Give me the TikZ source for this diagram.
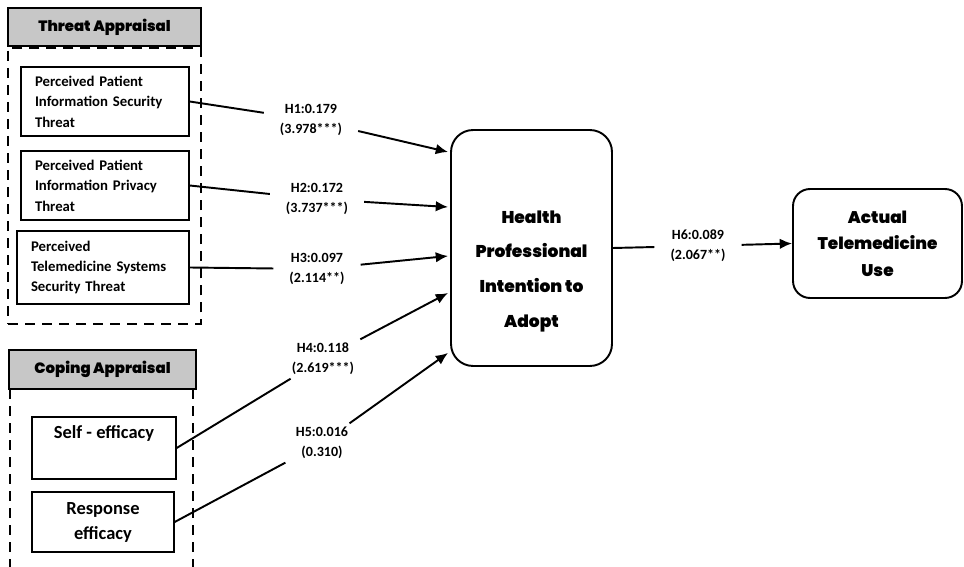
\documentclass[tikz,border=0pt]{standalone}
\usepackage{fontspec}
\setmainfont{Carlito}
\newfontfamily\heavyfont{Poppins Black}
\usetikzlibrary{arrows.meta, calc}
\tikzstyle{arrow} = [line width=1.1pt, -{Latex[length=7pt,width=6pt]}]

\begin{document}
\begin{tikzpicture}[x=0.02cm, y=-0.02cm,
	construct/.style={rectangle, draw=black, line width=0.8pt, minimum width=3.36cm, minimum height=1.38cm, text width=2.8cm, align=left, font=\bfseries\fontsize{8.4}{11.6}\selectfont},
	coping/.style={rectangle, draw=black, line width=0.8pt, align=center, font=\bfseries\fontsize{10.5}{14.2}\selectfont},
	header/.style={rectangle, draw=black, line width=1.1pt, fill=black!22, minimum height=0.77cm, font=\heavyfont\fontsize{8.5}{10}\selectfont},
	group/.style={draw=black, line width=1.1pt, dash pattern=on 5.7pt off 4pt},
	outcome/.style={rectangle, draw=black, line width=1.1pt, align=center, font=\heavyfont\fontsize{9.7}{19.8}\selectfont},
	link/.style={line width=1.1pt},
	coef/.style={inner xsep=9pt, inner ysep=2pt, align=center, font=\bfseries\fontsize{8}{11.3}\selectfont}
]
\useasboundingbox (0,0) rectangle (964,567);

% Threat appraisal group
\node[group, rectangle, anchor=north west, minimum width=3.86cm, minimum height=5.52cm] (thgroup) at (7,47) {};
\node[header, minimum width=3.86cm] (thhead) at (104.5,27) {Threat Appraisal};
\node[construct] (s1) at (105,101.5) {Perceived Patient\\Information Security\\Threat};
\node[construct] (s2) at (105,185.5) {Perceived Patient\\Information Privacy\\Threat};
\node[construct, minimum width=3.44cm, minimum height=1.46cm, text width=2.88cm] (s3) at (103,267.5) {Perceived\\Telemedicine Systems\\Security Threat};

% Coping appraisal group
\draw[group] (10,389) -- (10,567);
\draw[group] (193,389) -- (193,567);
\node[header, minimum width=3.74cm] (cphead) at (102.5,369.5) {Coping Appraisal};
\node[coping, minimum width=2.88cm, minimum height=1.24cm] (se) at (104,448) {Self - efficacy\\\strut};
\node[coping, minimum width=2.84cm, minimum height=1.2cm] (re) at (103,522) {Response\\efficacy};

% Outcomes
\node[outcome, minimum width=3.22cm, minimum height=4.72cm, rounded corners=0.44cm] (ihp) at (531.5,248) {\strut\\Health\\Professional\\Intention to\\Adopt};
\node[outcome, minimum width=3.38cm, minimum height=2.18cm, rounded corners=0.34cm, font=\heavyfont\fontsize{9.6}{15}\selectfont] (atu) at (877.5,243.5) {Actual\\Telemedicine\\Use};

% Path coefficients
\node[coef] (l1) at (311,120) {H1:0.179\\(3.978***)};
\node[coef] (l2) at (317,199) {H2:0.172\\(3.737***)};
\node[coef] (l3) at (317,269) {H3:0.097\\(2.114**)};
\node[coef] (l4) at (323,359) {H4:0.118\\(2.619***)};
\node[coef] (l5) at (322,443) {H5:0.016\\(0.310)};
\node[coef] (l6) at (698,246) {H6:0.089\\(2.067**)};

% Paths
\draw[link] (s1.east) -- (l1);
\draw[arrow] (l1) -- ($(ihp.west)+(-2,-96)$);
\draw[link] (s2.east) -- (l2);
\draw[arrow] (l2) -- ($(ihp.west)+(-2,-41)$);
\draw[link] (s3.east) -- (l3);
\draw[arrow] (l3) -- ($(ihp.west)+(-2,8)$);
\draw[link] (se.east) -- (l4);
\draw[arrow] (l4) -- ($(ihp.west)+(-2,45)$);
\draw[link] (re.east) -- (l5);
\draw[arrow] (l5) -- ($(ihp.south west)+(-2,-14)$);
\draw[link] (ihp.east) -- (l6);
\draw[arrow] (l6) -- (atu.west);

\end{tikzpicture}
\end{document}
